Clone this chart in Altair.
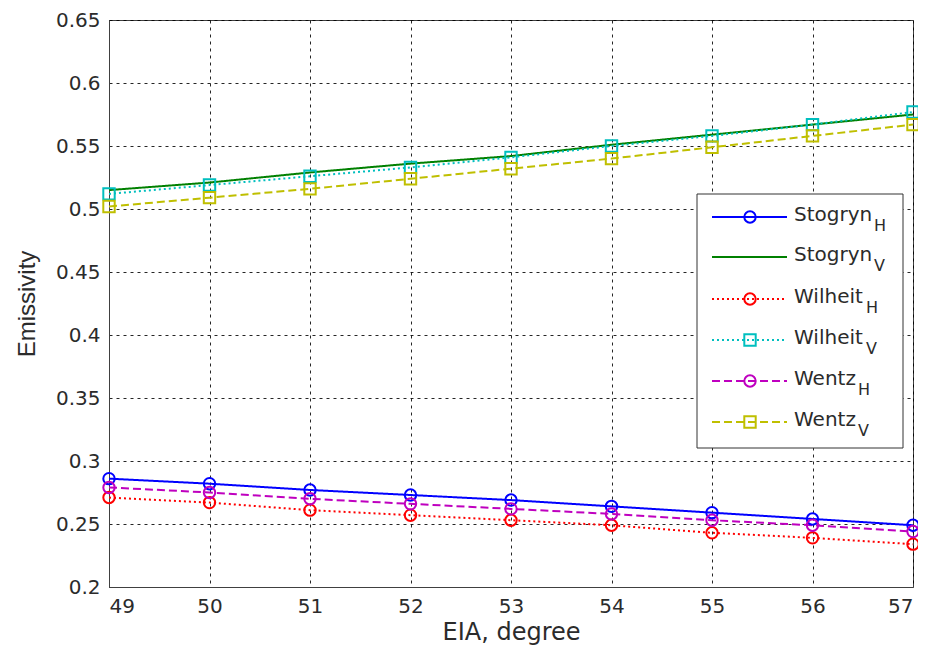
import altair as alt
import pandas as pd

# ---- data ----
eia = [49, 50, 51, 52, 53, 54, 55, 56, 57]
stogryn_h = [0.286, 0.282, 0.277, 0.273, 0.269, 0.264, 0.259, 0.254, 0.249]
stogryn_v = [0.515, 0.521, 0.529, 0.536, 0.542, 0.551, 0.559, 0.567, 0.575]
wilheit_h = [0.271, 0.267, 0.261, 0.257, 0.253, 0.249, 0.243, 0.239, 0.234]
wilheit_v = [0.512, 0.519, 0.526, 0.533, 0.541, 0.550, 0.558, 0.567, 0.577]
wentz_h = [0.279, 0.275, 0.270, 0.266, 0.262, 0.258, 0.253, 0.249, 0.244]
wentz_v = [0.502, 0.509, 0.516, 0.524, 0.532, 0.540, 0.549, 0.558, 0.567]

series_names = ["Stogryn_H", "Stogryn_V", "Wilheit_H", "Wilheit_V", "Wentz_H", "Wentz_V"]
series_vals = [stogryn_h, stogryn_v, wilheit_h, wilheit_v, wentz_h, wentz_v]
legend_main = ["Stogryn", "Stogryn", "Wilheit", "Wilheit", "Wentz", "Wentz"]
legend_sub = ["H", "V", "H", "V", "H", "V"]
colors = ["#0000FF", "#008000", "#FF0000", "#00BFBF", "#BF00BF", "#BFBF00"]
dashes = [[1, 0], [1, 0], [2, 3], [2, 3], [8, 4], [8, 4]]
shapes = ["circle", None, "circle", "square", "circle", "square"]

y_ticks = [0.2, 0.25, 0.3, 0.35, 0.4, 0.45, 0.5, 0.55, 0.6, 0.65]

rows = []
for name, vals in zip(series_names, series_vals):
    for x, v in zip(eia, vals):
        rows.append({"series": name, "eia": x, "emis": v})
df = pd.DataFrame(rows)

FONT = "DejaVu Sans"
YFONT = "Liberation Sans"
TXT = "#2b2b2b"
ox, oy = 109, 20  # plot origin on the page
W, H = 913 - ox, 587 - oy

x_enc = alt.X("eia:Q", scale=alt.Scale(domain=[49, 57], nice=False),
              axis=alt.Axis(values=eia, format="d", title="EIA, degree",
                            labelPadding=9, titlePadding=4, titleFontSize=24))
y_enc = alt.Y("emis:Q", scale=alt.Scale(domain=[0.2, 0.65], nice=False, zero=False),
              axis=alt.Axis(values=y_ticks, format=".2~f", title="Emissivity",
                            labelPadding=9, titlePadding=16, titleFont=YFONT, titleFontSize=24))

color_enc = alt.Color("series:N", scale=alt.Scale(domain=series_names, range=colors), legend=None)

lines = alt.Chart(df).mark_line(strokeWidth=2).encode(
    x=x_enc, y=y_enc, color=color_enc,
    strokeDash=alt.StrokeDash("series:N", scale=alt.Scale(domain=series_names, range=dashes), legend=None),
    detail="series:N",
)

pt_names = [n for n, s in zip(series_names, shapes) if s]
pt_shapes = [s for s in shapes if s]
points = alt.Chart(df).transform_filter(
    alt.FieldOneOfPredicate(field="series", oneOf=pt_names)
).mark_point(filled=False, size=130, strokeWidth=2, opacity=1).encode(
    x="eia:Q", y="emis:Q", color=color_enc,
    shape=alt.Shape("series:N", scale=alt.Scale(domain=pt_names, range=pt_shapes), legend=None),
)

# ---- custom legend (subscript labels) ----
dummy = pd.DataFrame({"a": [0]})
layers = [lines, points]
box = alt.Chart(dummy).mark_rect(fill="white", stroke="#333333", strokeWidth=1).encode(
    x=alt.value(697 - ox), x2=alt.value(903 - ox), y=alt.value(194 - oy), y2=alt.value(448 - oy))
layers.append(box)
row_y = [217, 257, 299, 340, 381, 422]
main_w = {"Stogryn": 80, "Wilheit": 72, "Wentz": 64}
for i in range(6):
    yy = row_y[i] - oy
    layers.append(alt.Chart(dummy).mark_rule(color=colors[i], strokeWidth=2, strokeDash=dashes[i]).encode(
        x=alt.value(712 - ox), x2=alt.value(787 - ox), y=alt.value(yy)))
    if shapes[i]:
        layers.append(alt.Chart(dummy).mark_point(shape=shapes[i], filled=False, size=130, strokeWidth=2,
                                                  color=colors[i], opacity=1).encode(
            x=alt.value(750 - ox), y=alt.value(yy)))
    layers.append(alt.Chart(dummy).mark_text(text=legend_main[i], align="left", baseline="alphabetic",
                                             fontSize=20, font=FONT, color=TXT).encode(
        x=alt.value(794 - ox), y=alt.value(yy + 4)))
    layers.append(alt.Chart(dummy).mark_text(text=legend_sub[i], align="left", baseline="alphabetic",
                                             fontSize=16, font=FONT, color=TXT).encode(
        x=alt.value(794 - ox + main_w[legend_main[i]]), y=alt.value(yy + 14)))

chart = alt.layer(*layers).properties(
    width=W, height=H,
    autosize=alt.AutoSizeParams(type="none"),
    padding={"left": ox - 8, "top": oy - 8, "right": 5, "bottom": 60},
).configure_view(stroke="#404040", strokeWidth=1).configure_axis(
    labelFont=FONT, titleFont=FONT, labelFontSize=20,
    labelColor=TXT, titleColor=TXT, titleFontWeight="normal",
    grid=True, gridColor="#000000", gridDash=[3, 4], gridOpacity=0.85, gridWidth=1,
    domainColor="#404040", tickColor="#404040", tickSize=0,
)

chart.save("out.html", embed_options={"renderer": "svg", "actions": False})
